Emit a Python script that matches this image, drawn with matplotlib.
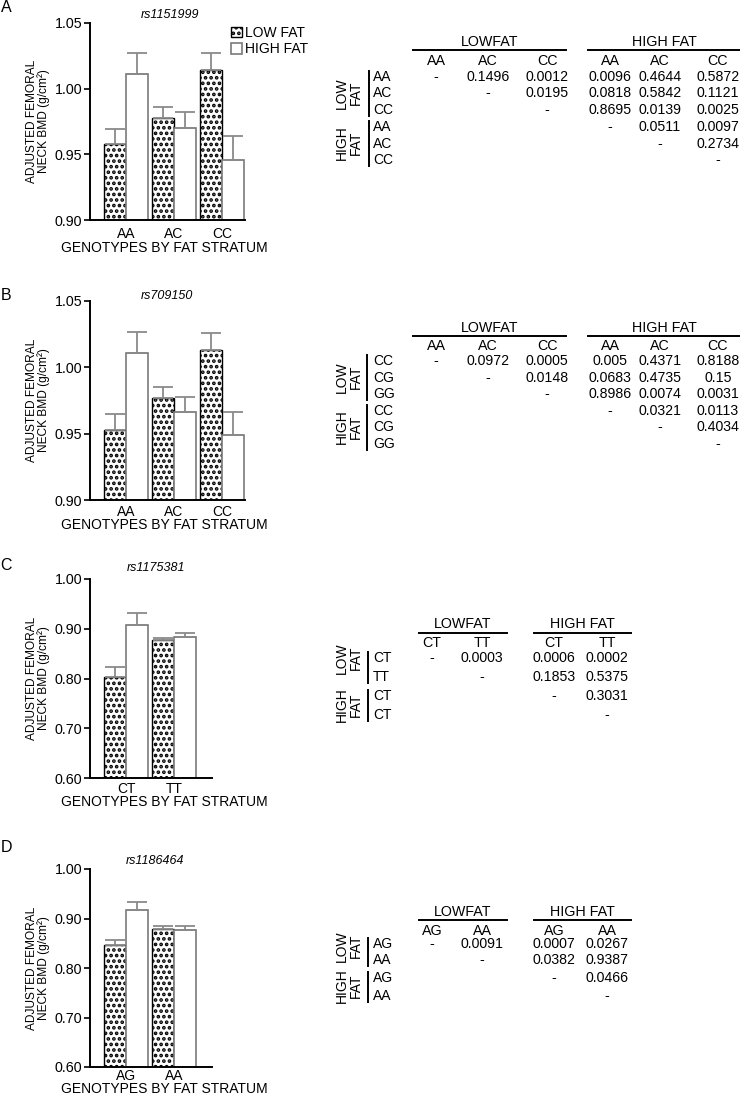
import matplotlib
matplotlib.use("Agg")
import matplotlib.pyplot as plt
import numpy as np
from matplotlib.lines import Line2D
from matplotlib.transforms import Affine2D

W, H = 740, 1095

plt.rcParams["font.family"] = ["Liberation Sans", "DejaVu Sans"]
plt.rcParams["hatch.linewidth"] = 1.8

# ---- bar data (adjusted femoral neck BMD, g/cm2) ----
SNPS = ["rs1151999", "rs709150", "rs1175381", "rs1186464"]
LETTERS = ["A", "B", "C", "D"]
SERIES = ["LOW FAT", "HIGH FAT"]

GENO_A = ["AA", "AC", "CC"]
LOW_A = [0.958, 0.978, 1.014]
LOW_A_ERR = [0.011, 0.008, 0.013]
HIGH_A = [1.011, 0.970, 0.946]
HIGH_A_ERR = [0.016, 0.012, 0.018]

GENO_B = ["AA", "AC", "CC"]
LOW_B = [0.953, 0.977, 1.013]
LOW_B_ERR = [0.012, 0.008, 0.013]
HIGH_B = [1.011, 0.966, 0.949]
HIGH_B_ERR = [0.016, 0.012, 0.017]

GENO_C = ["CT", "TT"]
LOW_C = [0.803, 0.878]
LOW_C_ERR = [0.020, 0.004]
HIGH_C = [0.908, 0.883]
HIGH_C_ERR = [0.023, 0.008]

GENO_D = ["AG", "AA"]
LOW_D = [0.846, 0.879]
LOW_D_ERR = [0.011, 0.005]
HIGH_D = [0.917, 0.877]
HIGH_D_ERR = [0.017, 0.008]

YTICKS_AB = [0.90, 0.95, 1.00, 1.05]
YTICKS_CD = [0.60, 0.70, 0.80, 0.90, 1.00]

# ---- p-value tables ----
TAB_COLS_A = ["AA", "AC", "CC"]
TAB_ROWS_A = ["AA", "AC", "CC"]
P_A = [
    ["-", "0.1496", "0.0012", "0.0096", "0.4644", "0.5872"],
    ["", "-", "0.0195", "0.0818", "0.5842", "0.1121"],
    ["", "", "-", "0.8695", "0.0139", "0.0025"],
    ["", "", "", "-", "0.0511", "0.0097"],
    ["", "", "", "", "-", "0.2734"],
    ["", "", "", "", "", "-"],
]
TAB_COLS_B = ["AA", "AC", "CC"]
TAB_ROWS_B = ["CC", "CG", "GG"]
P_B = [
    ["-", "0.0972", "0.0005", "0.005", "0.4371", "0.8188"],
    ["", "-", "0.0148", "0.0683", "0.4735", "0.15"],
    ["", "", "-", "0.8986", "0.0074", "0.0031"],
    ["", "", "", "-", "0.0321", "0.0113"],
    ["", "", "", "", "-", "0.4034"],
    ["", "", "", "", "", "-"],
]
TAB_COLS_C = ["CT", "TT"]
TAB_ROWS_C_LOW = ["CT", "TT"]
TAB_ROWS_C_HIGH = ["CT", "CT"]
P_C = [
    ["-", "0.0003", "0.0006", "0.0002"],
    ["", "-", "0.1853", "0.5375"],
    ["", "", "-", "0.3031"],
    ["", "", "", "-"],
]
TAB_COLS_D = ["AG", "AA"]
TAB_ROWS_D = ["AG", "AA"]
P_D = [
    ["-", "0.0091", "0.0007", "0.0267"],
    ["", "-", "0.0382", "0.9387"],
    ["", "", "-", "0.0466"],
    ["", "", "", "-"],
]

fig = plt.figure(figsize=(W / 100, H / 100), dpi=100)
# pixel coordinates measured from the top-left corner of the image
PX = Affine2D().scale(1 / W, -1 / H).translate(0, 1) + fig.transFigure

BAR_W = 0.458
LOW_STYLE = dict(facecolor="white", edgecolor="black", hatch="...", linewidth=1.0)
HIGH_STYLE = dict(facecolor="white", edgecolor="#7a7a7a", linewidth=1.2)
ERR_COLOR = "#8a8a8a"


def add_ax(left, top, right, bottom):
    return fig.add_axes([left / W, 1 - bottom / H, (right - left) / W, (bottom - top) / H])


def bar_panel(box, xright, geno, low, low_err, high, high_err, yticks, letter,
              letter_y, snp, title_xy, xlabel_base, xpad, legend=False):
    ax = add_ax(*box)
    x = np.arange(len(geno))
    b1 = ax.bar(x - BAR_W / 2, low, BAR_W, label=SERIES[0], **LOW_STYLE)
    b2 = ax.bar(x + BAR_W / 2, high, BAR_W, label=SERIES[1], **HIGH_STYLE)
    for xs, v, e in ((x - BAR_W / 2, low, low_err), (x + BAR_W / 2, high, high_err)):
        ax.errorbar(xs, v, yerr=[np.zeros(len(e)), e], fmt="none", ecolor=ERR_COLOR,
                    elinewidth=1.3, capsize=7, capthick=1.3, zorder=3)
    ax.set_ylim(yticks[0], yticks[-1])
    ax.set_xlim(-0.75, xright)
    ax.set_yticks(yticks)
    ax.set_yticklabels([f"{t:.2f}" for t in yticks])
    ax.set_xticks(x)
    ax.set_xticklabels(geno)
    ax.tick_params(axis="y", length=4, width=1.2, pad=1.5, labelsize=10.3)
    ax.tick_params(axis="x", length=0, pad=xpad, labelsize=10)
    for s in ("top", "right"):
        ax.spines[s].set_visible(False)
    for s in ("left", "bottom"):
        ax.spines[s].set_linewidth(1.4)
    yc = (box[1] + box[3]) / 2
    fig.text(38, yc, "ADJUSTED FEMORAL\nNECK BMD (g/cm\u00b2)", transform=PX,
             fontsize=8.6, rotation=90, ha="center", va="center", linespacing=0.95)
    fig.text(6, letter_y, letter, transform=PX, fontsize=11.5, ha="center", va="center")
    fig.text(title_xy[0], title_xy[1], snp, transform=PX, fontsize=9, style="italic",
             ha="center", va="center")
    fig.text(164, xlabel_base, "GENOTYPES BY FAT STRATUM", transform=PX, fontsize=10,
             ha="center", va="baseline")
    if legend:
        ax.legend(handles=[b1, b2], loc="upper left",
                  bbox_to_anchor=(231 / W, 1 - 26 / H), bbox_transform=fig.transFigure,
                  frameon=False, fontsize=10, handlelength=0.8, handleheight=0.8,
                  handletextpad=0.2, borderpad=0, borderaxespad=0, labelspacing=0.15)
    return ax


def hline(x0, x1, y):
    fig.add_artist(Line2D([x0, x1], [y, y], transform=PX, color="black", lw=1.4))


def vline(x, y0, y1):
    fig.add_artist(Line2D([x, x], [y0, y1], transform=PX, color="black", lw=1.4))


def table(col_x, row_y, cols, rows_low, rows_high, vals, head_y, line_y, colhead_y,
          low_line, high_line, bar_x, lab_y):
    n = len(cols)
    fig.text((low_line[0] + low_line[1]) / 2, head_y, "LOWFAT", transform=PX,
             fontsize=10.3, ha="center", va="center")
    fig.text((high_line[0] + high_line[1]) / 2, head_y, "HIGH FAT", transform=PX,
             fontsize=10.3, ha="center", va="center")
    hline(*low_line, line_y)
    hline(*high_line, line_y)
    for j, c in enumerate(cols + cols):
        fig.text(col_x[j], colhead_y, c, transform=PX, fontsize=10.3, ha="center",
                 va="center")
    for i, r in enumerate(rows_low + rows_high):
        fig.text(373, row_y[i], r, transform=PX, fontsize=10, ha="left", va="center")
        for j, v in enumerate(vals[i]):
            if v:
                fig.text(col_x[j], row_y[i], v, transform=PX, fontsize=10.2, ha="center",
                         va="center")
    vline(bar_x, row_y[0] - 6, row_y[n - 1] + 6)
    vline(bar_x, row_y[n] - 6, row_y[-1] + 6)
    for txt, yy in zip(("LOW\nFAT", "HIGH\nFAT"), lab_y):
        fig.text(349, yy, txt, transform=PX, fontsize=10, rotation=90, ha="center",
                 va="center", linespacing=1.0)


BOX_A = (90, 23, 245, 220)
BOX_B = (90, 301, 245, 500)
BOX_C = (90, 579, 212, 778)
BOX_D = (90, 869, 212, 1067)

bar_panel(BOX_A, 2.48, GENO_A, LOW_A, LOW_A_ERR, HIGH_A, HIGH_A_ERR, YTICKS_AB,
          LETTERS[0], 8, SNPS[0], (170, 15), 252, 5, legend=True)
bar_panel(BOX_B, 2.48, GENO_B, LOW_B, LOW_B_ERR, HIGH_B, HIGH_B_ERR, YTICKS_AB,
          LETTERS[1], 295, SNPS[1], (167, 296), 529, 3.4)
bar_panel(BOX_C, 1.78, GENO_C, LOW_C, LOW_C_ERR, HIGH_C, HIGH_C_ERR, YTICKS_CD,
          LETTERS[2], 566, SNPS[2], (156, 568), 806, 2.6)
bar_panel(BOX_D, 1.78, GENO_D, LOW_D, LOW_D_ERR, HIGH_D, HIGH_D_ERR, YTICKS_CD,
          LETTERS[3], 848, SNPS[3], (155, 861), 1093, 1.8)

COLX_AB = [436, 488, 547, 610, 660, 718]
COLX_CD = [432, 482, 554, 607]
table(COLX_AB, [77, 93, 110, 127, 144, 160], TAB_COLS_A, TAB_ROWS_A, TAB_ROWS_A, P_A,
      41.7, 50, 61, (413, 566), (588, 740), 369, (93, 143))
table(COLX_AB, [361, 378, 394, 411, 427, 444], TAB_COLS_B, TAB_ROWS_B, TAB_ROWS_B, P_B,
      327.7, 335.7, 345.7, (413, 566), (588, 740), 367, (377, 427))
table(COLX_CD, [658, 677, 696, 715], TAB_COLS_C, TAB_ROWS_C_LOW, TAB_ROWS_C_HIGH, P_C,
      624.3, 632.7, 643.3, (419, 507), (534, 631), 368, (658, 705))
table(COLX_CD, [944, 960, 978, 996], TAB_COLS_D, TAB_ROWS_D, TAB_ROWS_D, P_D,
      911.7, 920, 930.7, (419, 507), (534, 631), 368, (946, 986))

fig.savefig("out.png", dpi=100)
